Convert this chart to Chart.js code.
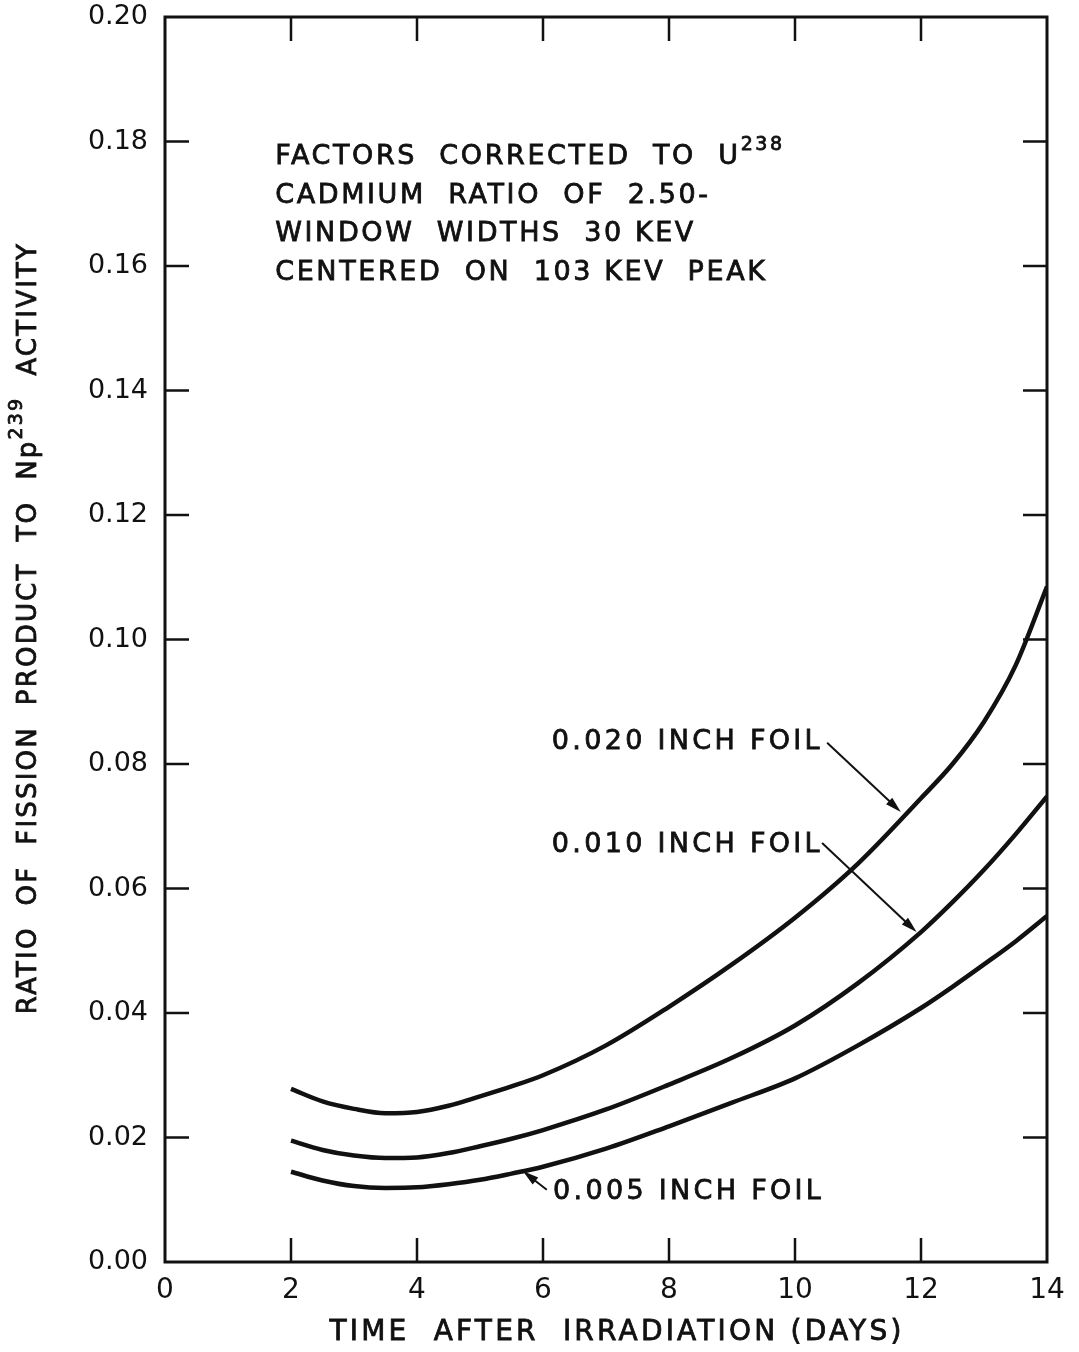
<!DOCTYPE html>
<html lang="en">
<head>
  <meta charset="UTF-8">
  <title>Fission product to Np239 activity ratio</title>
  <script src="https://cdn.jsdelivr.net/npm/chart.js"></script>
  <style>
    body { margin: 0; background: #fff; }
    #wrap { width: 1079px; height: 1352px; position: relative; }
  </style>
</head>
<body>
  <div id="wrap"><canvas id="ratioChart"></canvas></div>

  <script>
    // days after irradiation
    const days = [2, 2.5, 3, 3.5, 4, 4.5, 5, 5.5, 6, 7, 8, 9, 10, 11, 12, 12.5, 13, 13.5, 14];
    // ratio of fission product to Np239 activity, per foil thickness
    const foil020 = [0.0278, 0.0258, 0.0246, 0.0239, 0.0241, 0.0251, 0.0266, 0.0282, 0.0300, 0.0348, 0.0410, 0.0478, 0.0553, 0.0640, 0.0745, 0.0800, 0.0868, 0.0958, 0.1085];
    const foil010 = [0.0195, 0.0180, 0.0171, 0.0167, 0.0168, 0.0175, 0.0186, 0.0198, 0.0212, 0.0245, 0.0285, 0.0328, 0.0380, 0.0448, 0.0530, 0.0578, 0.0630, 0.0687, 0.0748];
    const foil005 = [0.0145, 0.0131, 0.0122, 0.0119, 0.0120, 0.0125, 0.0132, 0.0142, 0.0153, 0.0182, 0.0218, 0.0256, 0.0295, 0.0348, 0.0408, 0.0442, 0.0478, 0.0515, 0.0556];
    const seriesNames = ["0.020 INCH FOIL", "0.010 INCH FOIL", "0.005 INCH FOIL"];
    const xTicks = [0, 2, 4, 6, 8, 10, 12, 14];
    const yTicks = [0, 0.02, 0.04, 0.06, 0.08, 0.10, 0.12, 0.14, 0.16, 0.18, 0.20];

    // label anchor (data coords) and arrow tail -> tip
    const labelPos = [[6.14, 0.0835], [6.14, 0.0670], [6.16, 0.01125]];
    const arrowFrom = [[10.51, 0.0834], [10.43, 0.0673], [6.06, 0.0116]];
    const arrowTo = [[11.68, 0.0723], [11.93, 0.0530], [5.68, 0.0146]];

    const FONT = "'DejaVu Sans', sans-serif";
    const ink = '#111';

    function pts(ys) { return days.map((d, i) => ({ x: d, y: ys[i] })); }

    function partFont(p, size) {
      return (p[1] ? Math.round(size * 0.72) : size) + 'px ' + FONT;
    }

    function textWidth(ctx, parts, size, spacing) {
      ctx.letterSpacing = spacing + 'px';
      let w = 0;
      parts.forEach(p => { ctx.font = partFont(p, size); w += ctx.measureText(p[0]).width; });
      return w;
    }

    function drawRich(ctx, parts, x, y, size, spacing) {
      ctx.letterSpacing = spacing + 'px';
      ctx.lineWidth = 0.8;
      let cx = x;
      parts.forEach(p => {
        ctx.font = partFont(p, size);
        const yy = p[1] ? y - size * 0.45 : y;
        ctx.fillText(p[0], cx, yy);
        ctx.strokeText(p[0], cx, yy);
        cx += ctx.measureText(p[0]).width;
      });
    }

    const framePlugin = {
      id: 'frame',
      afterDraw(chart) {
        const ctx = chart.ctx;
        const a = chart.chartArea;
        const xs = chart.scales.x, ys = chart.scales.y;
        const tl = 24;
        ctx.save();
        ctx.strokeStyle = ink;
        ctx.fillStyle = ink;
        ctx.lineWidth = 3;
        ctx.strokeRect(a.left, a.top, a.right - a.left, a.bottom - a.top);

        // inward ticks on all sides
        ctx.lineWidth = 2.5;
        ctx.beginPath();
        xTicks.slice(1, -1).forEach(v => {
          const px = xs.getPixelForValue(v);
          ctx.moveTo(px, a.bottom); ctx.lineTo(px, a.bottom - tl);
          ctx.moveTo(px, a.top); ctx.lineTo(px, a.top + tl);
        });
        yTicks.slice(1, -1).forEach(v => {
          const py = ys.getPixelForValue(v);
          ctx.moveTo(a.left, py); ctx.lineTo(a.left + tl, py);
          ctx.moveTo(a.right, py); ctx.lineTo(a.right - tl, py);
        });
        ctx.stroke();

        // axis titles
        ctx.textBaseline = 'middle';
        ctx.textAlign = 'left';
        const xt = [["TIME  AFTER  IRRADIATION (DAYS)", false]];
        const wx = textWidth(ctx, xt, 28, 3.2);
        drawRich(ctx, xt, 617 - wx / 2, 1333, 28, 3.2);

        const yt = [["RATIO  OF  FISSION  PRODUCT  TO  Np", false], ["239", true], ["  ACTIVITY", false]];
        const wy = textWidth(ctx, yt, 26, 2.2);
        ctx.save();
        ctx.translate(29, 628);
        ctx.rotate(-Math.PI / 2);
        drawRich(ctx, yt, -wy / 2, 0, 26, 2.2);
        ctx.restore();

        // note block
        const noteX = xs.getPixelForValue(1.75);
        const note = [
          [["FACTORS  CORRECTED  TO  U", false], ["238", true]],
          [["CADMIUM  RATIO  OF  2.50-", false]],
          [["WINDOW  WIDTHS  30 KEV", false]],
          [["CENTERED  ON  103 KEV  PEAK", false]]
        ];
        const noteY = [0.1775, 0.1713, 0.1651, 0.1589];
        note.forEach((line, i) => drawRich(ctx, line, noteX, ys.getPixelForValue(noteY[i]), 27, 2.6));

        // curve labels and arrows
        seriesNames.forEach((name, i) => {
          drawRich(ctx, [[name, false]], xs.getPixelForValue(labelPos[i][0]), ys.getPixelForValue(labelPos[i][1]), 27, 3.3);
          const x0 = xs.getPixelForValue(arrowFrom[i][0]), y0 = ys.getPixelForValue(arrowFrom[i][1]);
          const x1 = xs.getPixelForValue(arrowTo[i][0]), y1 = ys.getPixelForValue(arrowTo[i][1]);
          const ang = Math.atan2(y1 - y0, x1 - x0);
          const c = Math.cos(ang), s = Math.sin(ang);
          ctx.lineWidth = 2;
          ctx.beginPath();
          ctx.moveTo(x0, y0);
          ctx.lineTo(x1 - 10 * c, y1 - 10 * s);
          ctx.stroke();
          ctx.beginPath();
          ctx.moveTo(x1, y1);
          ctx.lineTo(x1 - 16 * c + 4.5 * s, y1 - 16 * s - 4.5 * c);
          ctx.lineTo(x1 - 16 * c - 4.5 * s, y1 - 16 * s + 4.5 * c);
          ctx.closePath();
          ctx.fill();
        });
        ctx.restore();
      }
    };

    const lineStyle = { borderColor: ink, borderWidth: 4.5, pointRadius: 0, fill: false, cubicInterpolationMode: 'monotone' };

    new Chart(document.getElementById('ratioChart'), {
      type: 'line',
      data: {
        datasets: [
          Object.assign({ label: seriesNames[0], data: pts(foil020) }, lineStyle),
          Object.assign({ label: seriesNames[1], data: pts(foil010) }, lineStyle),
          Object.assign({ label: seriesNames[2], data: pts(foil005) }, lineStyle)
        ]
      },
      options: {
        responsive: true,
        maintainAspectRatio: false,
        animation: false,
        layout: { padding: { top: 17, right: 32, left: 0, bottom: 0 } },
        plugins: { legend: { display: false }, tooltip: { enabled: false } },
        scales: {
          x: {
            type: 'linear', min: 0, max: 14,
            afterFit: s => { s.height = 90; s.paddingLeft = 0; s.paddingRight = 0; },
            afterBuildTicks: s => { s.ticks = xTicks.map(v => ({ value: v })); },
            grid: { display: false, drawTicks: false },
            border: { display: false },
            ticks: { padding: 12, color: ink, font: { family: FONT, size: 28 }, callback: v => String(v) }
          },
          y: {
            type: 'linear', min: 0, max: 0.2,
            afterFit: s => { s.width = 165; s.paddingTop = 0; s.paddingBottom = 0; },
            afterBuildTicks: s => { s.ticks = yTicks.map(v => ({ value: v })); },
            grid: { display: false, drawTicks: false },
            border: { display: false },
            ticks: { padding: 17, color: ink, font: { family: FONT, size: 27 }, callback: v => v.toFixed(2) }
          }
        }
      },
      plugins: [framePlugin]
    });
  </script>
</body>
</html>
